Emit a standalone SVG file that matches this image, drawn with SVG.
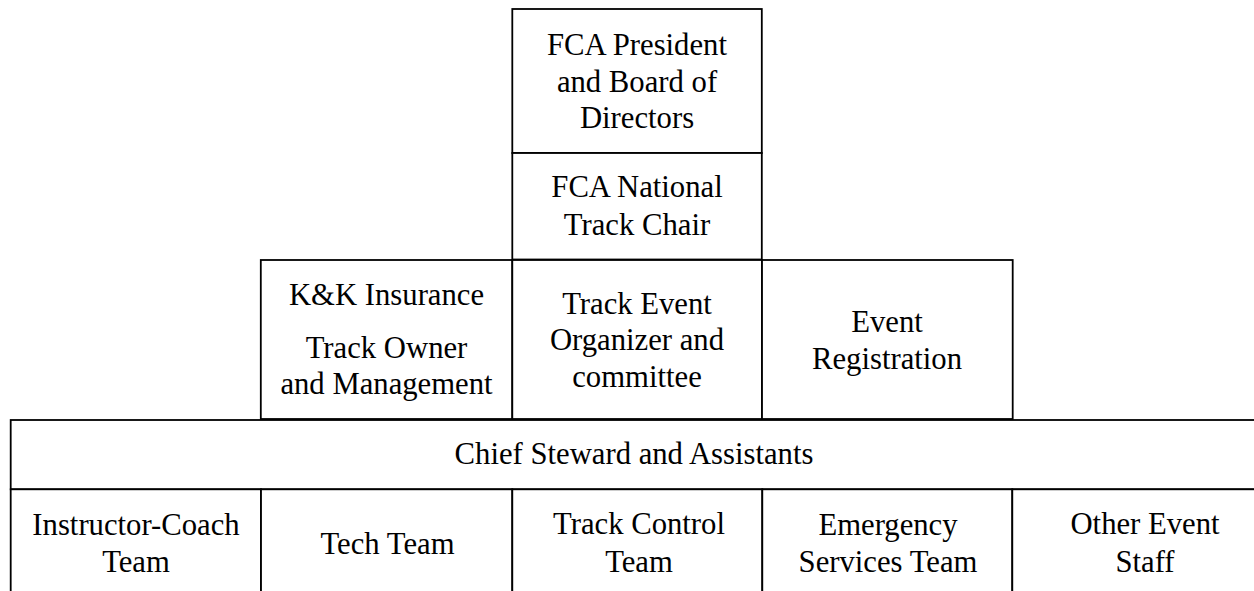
<svg xmlns="http://www.w3.org/2000/svg" width="1254" height="591" viewBox="0 0 1254 591">
<style>
rect{fill:#fff;stroke:#000;stroke-width:1.8}
text{font-family:'Liberation Serif','Times New Roman',serif;font-size:30.7px;fill:#000;text-anchor:middle}
</style>
<rect x="0" y="0" width="1254" height="591" style="stroke:none"/>
<g id="connectors"></g>
<g id="president">
<rect x="512.3" y="9" width="249.5" height="144"/>
<text x="637" y="54.5">FCA President</text>
<text x="637" y="91.5">and Board of</text>
<text x="637" y="128">Directors</text>
</g>
<g id="chair">
<rect x="512.3" y="153" width="249.5" height="106.5"/>
<text x="637" y="197">FCA National</text>
<text x="637" y="235">Track Chair</text>
</g>
<g id="kk">
<rect x="260.8" y="260" width="251.5" height="159"/>
<text x="386.5" y="305">K&amp;K Insurance</text>
<text x="386.5" y="357.5">Track Owner</text>
<text x="386.5" y="393.5">and Management</text>
</g>
<g id="organizer">
<rect x="512.3" y="260" width="249.7" height="159"/>
<text x="637" y="313.5">Track Event</text>
<text x="637" y="350">Organizer and</text>
<text x="637" y="387">committee</text>
</g>
<g id="registration">
<rect x="762" y="260" width="250.7" height="159"/>
<text x="887" y="332">Event</text>
<text x="887" y="368.5">Registration</text>
</g>
<g id="chief">
<rect x="10.7" y="420" width="1270" height="69.3"/>
<text x="634" y="463.5">Chief Steward and Assistants</text>
</g>
<g id="instructor">
<rect x="10.7" y="489.3" width="250.3" height="120"/>
<text x="136" y="535">Instructor-Coach</text>
<text x="136" y="572">Team</text>
</g>
<g id="tech">
<rect x="261" y="489.3" width="251.3" height="120"/>
<text x="387.5" y="553.5">Tech Team</text>
</g>
<g id="trackcontrol">
<rect x="512.3" y="489.3" width="250" height="120"/>
<text x="639" y="533.5">Track Control</text>
<text x="639" y="572">Team</text>
</g>
<g id="emergency">
<rect x="762.3" y="489.3" width="250" height="120"/>
<text x="888" y="535">Emergency</text>
<text x="888" y="572">Services Team</text>
</g>
<g id="other">
<rect x="1012.3" y="489.3" width="270" height="120"/>
<text x="1145" y="534">Other Event</text>
<text x="1145" y="572">Staff</text>
</g>
</svg>
